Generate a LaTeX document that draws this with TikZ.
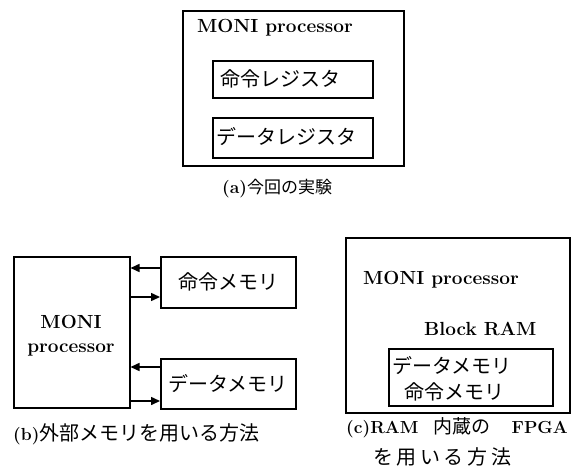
\documentclass[tikz,border=0pt]{standalone}
\usepackage{fontspec}
\usepackage{graphicx}
\newfontfamily\jp{Noto Sans CJK JP}
\newcommand\captlat[1]{\scalebox{0.92}{\fontsize{19}{22}\selectfont\bfseries #1}}
\usetikzlibrary{arrows.meta}
\begin{document}
\begin{tikzpicture}[x=1pt,y=-1pt,
  box/.style={draw, line width=1.5pt, inner sep=0pt, anchor=north west},
  lat/.style={font=\fontsize{19}{22}\selectfont\bfseries, inner sep=0pt},
  jpt/.style={font=\fontsize{20}{24}\selectfont\jp, inner sep=0pt},
  captxt/.style={inner sep=0pt},
  arr/.style={line width=1.5pt, -{Triangle[length=9pt,width=8pt]}}]
\useasboundingbox (0,0) rectangle (575,471);
% (a)
\node[box, minimum width=221pt, minimum height=155pt] (aouter) at (182,10) {};
\node[lat, anchor=base west] (atitle) at (197,32) {MONI processor};
\node[box, minimum width=160pt, minimum height=37pt] (areg1) at (212,60) {};
\node[jpt, anchor=west] (areg1t) at (220,79) {命令レジスタ};
\node[box, minimum width=160pt, minimum height=40pt] (areg2) at (212,117) {};
\node[jpt, anchor=west] (areg2t) at (216,137) {データレジスタ};
\node[captxt, anchor=base west] (acap) at (222,193) {\captlat{(a)}{\jp\fontsize{17}{20}\selectfont 今回の実験}};
% (b)
\node[box, minimum width=116pt, minimum height=151pt] (bmoni) at (13,256) {};
\node[lat, anchor=base] (bmoni1) at (71,328) {MONI};
\node[lat, anchor=base] (bmoni2) at (71,352) {processor};
\node[box, jpt, minimum width=135pt, minimum height=51pt] (bimem) at (160,256) {命令メモリ};
\node[box, jpt, minimum width=135pt, minimum height=50pt] (bdmem) at (160,358) {データメモリ};
\coordinate (p1) at ([yshift=-12pt]bimem.north west);
\coordinate (p2) at ([yshift=-41pt]bimem.north west);
\coordinate (p3) at ([yshift=-9pt]bdmem.north west);
\coordinate (p4) at ([yshift=-43pt]bdmem.north west);
\draw[arr] (p1) -- (p1 -| bmoni.east);
\draw[arr] (p2 -| bmoni.east) -- (p2);
\draw[arr] (p3) -- (p3 -| bmoni.east);
\draw[arr] (p4 -| bmoni.east) -- (p4);
\node[captxt, anchor=base west] (bcap) at (13,440) {\captlat{(b)}{\jp\fontsize{20}{24}\selectfont 外部メモリを用いる方法}};
% (c)
\node[box, minimum width=224pt, minimum height=175pt] (couter) at (345,237) {};
\node[lat, anchor=base west] (ctitle) at (363,284) {MONI processor};
\node[lat, anchor=base west] (cbram) at (424,335) {Block RAM};
\node[box, minimum width=164pt, minimum height=57pt] (cram) at (388,348) {};
\node[jpt, anchor=west] (cdmem) at (392,366) {データメモリ};
\node[jpt, anchor=west] (cimem) at (404,392) {命令メモリ};
\node[captxt, anchor=base west] (ccap1a) at (346,433) {\captlat{(c)RAM}};
\node[captxt, anchor=base west, font=\fontsize{19}{22}\selectfont\jp] (ccap1b) at (433,433) {内蔵の};
\node[captxt, anchor=base east] (ccap1c) at (568,433) {\captlat{FPGA}};
\node[captxt, anchor=west] (ccap2) at (373,457) {\fontsize{20}{24}\selectfont\jp\addfontfeature{LetterSpace=18}を用いる方法};
\end{tikzpicture}
\end{document}
